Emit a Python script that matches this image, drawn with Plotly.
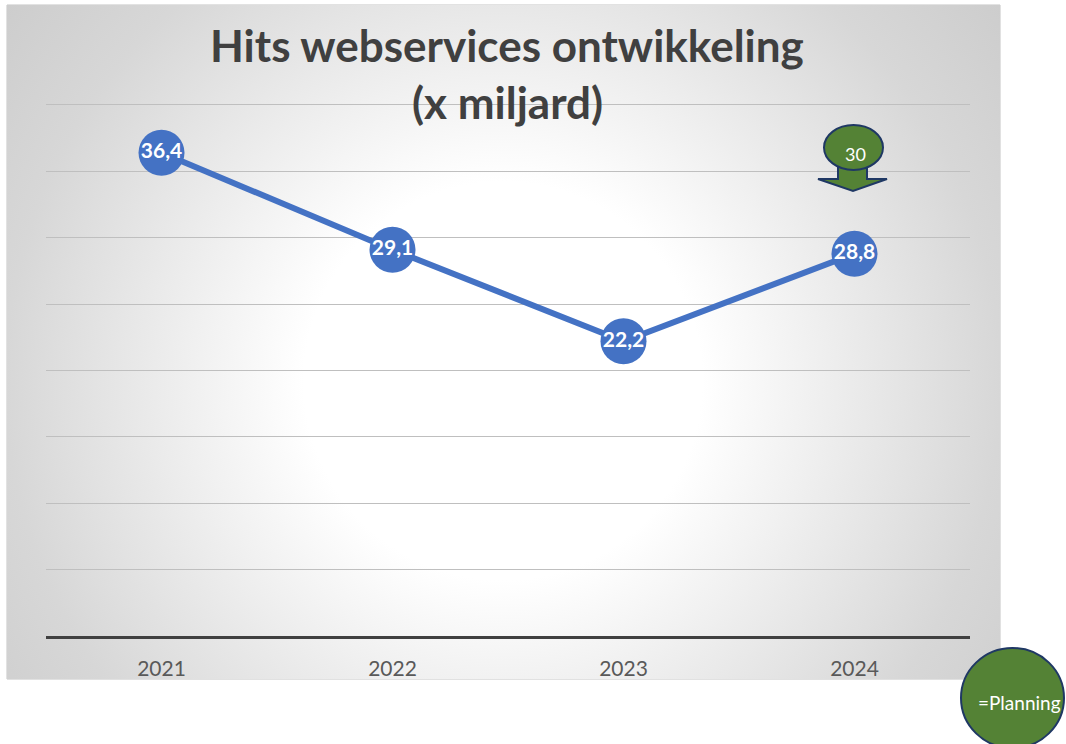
import plotly.graph_objects as go

# data
years = ["2021", "2022", "2023", "2024"]
hits = [36.4, 29.1, 22.2, 28.8]
planning_2024 = 30

W, H = 1066, 744


def px_x(p):
    return p / W


def px_y(p):
    # pixel from top -> paper fraction from bottom
    return 1 - p / H


# chart area in pixels and centre of the radial fill
left, right, top, bottom = 7, 1000, 5, 679
cx, cy, rad = 503, 381, 622

# value axis: 0 at y=636px, 40 at y=105px
y_max = 40.3
px_per_unit = (636 - 105) / 40

fig = go.Figure()

# radial gradient background, square box so the gradient stays round
fig.add_trace(
    go.Scatter(
        x=[cx - rad, cx + rad, cx + rad, cx - rad, cx - rad],
        y=[cy - rad, cy - rad, cy + rad, cy + rad, cy - rad],
        mode="lines",
        fill="toself",
        fillgradient=dict(
            type="radial",
            colorscale=[
                [0, "#ffffff"],
                [0.32, "#ffffff"],
                [0.8, "#d7d7d7"],
                [1, "#cdcdcd"],
            ],
        ),
        line=dict(width=0),
        hoverinfo="skip",
        showlegend=False,
        xaxis="x",
        yaxis="y",
    )
)

labels = [f"{v:.1f}".replace(".", ",") for v in hits]
fig.add_trace(
    go.Scatter(
        x=years,
        y=hits,
        mode="lines+markers+text",
        line=dict(color="#4472C4", width=6),
        marker=dict(size=46, color="#4472C4"),
        text=labels,
        textposition="middle center",
        textfont=dict(family="Lato", size=21, color="white", weight="bold"),
        showlegend=False,
        xaxis="x2",
        yaxis="y2",
    )
)

fig.update_layout(
    width=W,
    height=H,
    margin=dict(l=0, r=0, t=0, b=0),
    paper_bgcolor="white",
    plot_bgcolor="rgba(0,0,0,0)",
    font=dict(family="Lato", color="#595959"),
    xaxis=dict(
        domain=[px_x(left), px_x(right)],
        range=[left, right],
        visible=False,
        fixedrange=True,
    ),
    yaxis=dict(
        domain=[px_y(bottom), px_y(top)],
        range=[bottom, top],
        visible=False,
        fixedrange=True,
    ),
    xaxis2=dict(
        domain=[px_x(46), px_x(970)],
        anchor="y2",
        type="category",
        range=[-0.5, 3.5],
        showgrid=False,
        zeroline=False,
        showline=True,
        linecolor="#404040",
        linewidth=3,
        ticks="",
        ticklabelstandoff=12,
        tickfont=dict(size=21, color="#595959"),
    ),
    yaxis2=dict(
        domain=[px_y(636), px_y(636 - y_max * px_per_unit)],
        anchor="x2",
        range=[0, y_max],
        dtick=5,
        showgrid=True,
        gridcolor="#bfbfbf",
        gridwidth=1,
        zeroline=False,
        showticklabels=False,
    ),
)

# thin border round the chart area
fig.add_shape(
    type="rect",
    xref="paper", yref="paper",
    x0=px_x(left), x1=px_x(right), y0=px_y(bottom), y1=px_y(top),
    line=dict(color="#c4c4c4", width=1),
    layer="below",
)

# title
for txt, ypos in [("Hits webservices ontwikkeling", 45), ("(x miljard)", 102)]:
    fig.add_annotation(
        x=px_x(507), y=px_y(ypos), xref="paper", yref="paper",
        xanchor="center", yanchor="middle",
        text=f"<b>{txt}</b>", showarrow=False,
        font=dict(size=44, color="#404040"),
    )

# planning callout with down arrow at 2024
green = "#548235"
navy = "#1f3864"
fig.add_shape(
    type="path",
    xref="paper", yref="paper",
    path=(
        f"M {px_x(838)},{px_y(166)} L {px_x(867)},{px_y(166)} "
        f"L {px_x(867)},{px_y(179)} L {px_x(887)},{px_y(179)} "
        f"L {px_x(853)},{px_y(191)} L {px_x(818)},{px_y(179)} "
        f"L {px_x(838)},{px_y(179)} Z"
    ),
    fillcolor=green,
    line=dict(color=navy, width=2),
)
fig.add_shape(
    type="circle",
    xref="paper", yref="paper",
    x0=px_x(824), x1=px_x(883), y0=px_y(170), y1=px_y(125),
    fillcolor=green,
    line=dict(color=navy, width=2),
)
fig.add_annotation(
    x=px_x(855), y=px_y(154), xref="paper", yref="paper",
    xanchor="center", yanchor="middle",
    text=str(planning_2024), showarrow=False,
    font=dict(size=18, color="white"),
)

# legend bubble "=Planning"
fig.add_shape(
    type="circle",
    xref="paper", yref="paper",
    x0=px_x(961), x1=px_x(1064), y0=px_y(748), y1=px_y(648),
    fillcolor=green,
    line=dict(color=navy, width=2),
)
fig.add_annotation(
    x=px_x(1019), y=px_y(702), xref="paper", yref="paper",
    xanchor="center", yanchor="middle",
    text="=Planning", showarrow=False,
    font=dict(size=19, color="white"),
)

# drop the default page margin so the figure fills the window exactly
fig.write_html(
    "out.html",
    config={"displayModeBar": False},
    post_script="document.body.style.margin = '0';",
)
